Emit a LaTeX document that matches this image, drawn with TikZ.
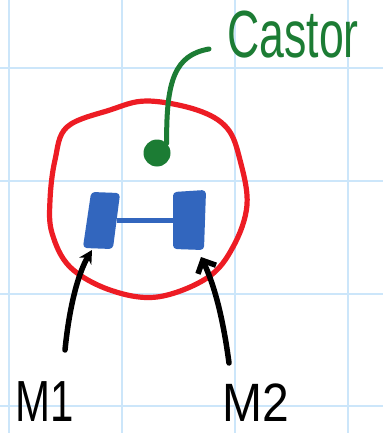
\documentclass[tikz,border=0pt]{standalone}
\usepackage{fontspec}
\setmainfont{Liberation Sans}
\usetikzlibrary{arrows.meta}
\definecolor{gridblue}{RGB}{204,230,250}
\definecolor{penred}{RGB}{237,28,36}
\definecolor{pengreen}{RGB}{28,124,52}
\definecolor{penblue}{RGB}{50,102,190}
\tikzset{
  pen/.style={line cap=round,line join=round},
  blockfill/.style={draw=penblue,fill=penblue,line width=2pt,rounded corners=3pt,pen},
  handtext/.style={inner sep=0pt,anchor=base},
  pointer/.style={pen,draw=black,line width=5.5pt}
}
\begin{document}
\begin{tikzpicture}[x=1pt,y=-1pt]
\useasboundingbox (0,0) rectangle (383,433);
\fill[white] (0,0) rectangle (383,433);
% grid
\foreach \gx in {9,122,235,348} \draw[gridblue,line width=1.6pt] (\gx,0) -- (\gx,433);
\foreach \gy in {68,181,294,406} \draw[gridblue,line width=1.6pt] (0,\gy) -- (383,\gy);
% red outline
\draw[penred,line width=5.2pt,pen] plot[smooth cycle,tension=0.6] coordinates
 {(147,101) (197,110) (227,128) (240,160) (247,205) (233,247) (207,278) (157,297) (110,290) (70,267) (52,233) (50,200) (55,160) (67,127) (110,110)};
% blue blocks
\coordinate (lbe) at (117,220);
\coordinate (lbs) at (92,250);
\coordinate (rbw) at (176,220);
\coordinate (rbs) at (201,257);
\fill[blockfill] (92,193) -- (119,194) -- (112,248) -- (84,247) -- cycle;
\fill[blockfill] (174,193) -- (205,191) -- (203,249) -- (174,248) -- cycle;
\draw[penblue,line width=5pt] (lbe) -- (rbw);
% castor
\node[circle,fill=pengreen,minimum size=27pt,inner sep=0pt] (cb) at (157,153) {};
\node[handtext,text=pengreen] (ct) at (293,58) {\scalebox{0.97}[1.45]{\fontsize{46}{46}\selectfont Castor}};
\coordinate (ctend) at (209,49);
\draw[pengreen,line width=5pt,pen] (cb.north east) .. controls (166,80) and (175,55) .. (ctend);
% M labels
\node[handtext] (m1) at (45,421) {\scalebox{1.05}[1.45]{\fontsize{40}{40}\selectfont M1}};
\node[handtext] (m2) at (256,421) {\scalebox{1.2}[1.35]{\fontsize{40}{40}\selectfont M2}};
\coordinate (m1s) at (65,350);
\coordinate (m2s) at (229,363);
\draw[pointer,-{Stealth[length=13pt,width=14pt]}] (m1s) .. controls (70,300) and (80,270) .. (lbs);
\draw[pointer,-{Straight Barb[length=10pt,width=20pt]}] (m2s) .. controls (222,310) and (212,280) .. (rbs);
\end{tikzpicture}
\end{document}
